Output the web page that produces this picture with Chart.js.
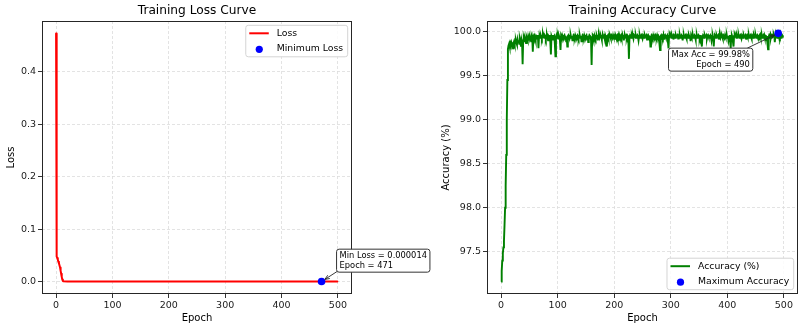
<!DOCTYPE html>
<html>
<head>
<meta charset="utf-8">
<script src="https://cdn.jsdelivr.net/npm/chart.js@4.4.0/dist/chart.umd.min.js"></script>
<style>
html, body { margin: 0; padding: 0; background: #fff; }
#wrap { position: relative; width: 808px; height: 332px; }
canvas { position: absolute; left: 0; top: 0; }
</style>
</head>
<body>
<div id="wrap">
  <canvas id="lossChart" width="808" height="332"></canvas>
  <canvas id="accChart" width="808" height="332"></canvas>
</div>
<script>
// --- data ---
const lossEpochs = [0, 1, 2, 3, 4, 5, 6, 7, 8, 9, 10, 11, 12, 13, 20, 40, 80, 120, 160, 200, 250, 300, 350, 400, 450, 471, 485, 499];
const lossValues = [0.473, 0.048, 0.045, 0.042, 0.038, 0.035, 0.031, 0.027, 0.021, 0.015, 0.009, 0.004, 0.0012, 0.0006,
  0.0003, 0.0002, 0.00012, 0.0001, 0.00008, 0.00006, 0.00005, 0.00004, 0.00003, 0.000025, 0.00002, 0.000014, 0.000018, 0.00002];
const minLossEpoch = 471;
const minLossValue = 0.000014;

// accuracy (%) for epochs 0..499
const accValues = [
  97.16, 97.28, 97.40, 97.48, 97.55, 97.62, 97.80, 98.00, 98.25, 98.60, 99.00, 99.45, 99.80, 99.84, 99.86, 99.83, 99.87, 99.85, 99.88, 99.86,
  99.84, 99.81, 99.87, 99.89, 99.86, 99.88, 99.90, 99.87, 99.85, 99.91, 99.88, 99.90, 99.86, 99.92, 99.89, 99.83, 99.91, 99.88, 99.63, 99.90,
  99.92, 99.89, 99.93, 99.91, 99.87, 99.94, 99.92, 99.90, 99.95, 99.93, 99.91, 99.94, 99.92, 99.89, 99.95, 99.93, 99.77, 99.94, 99.92, 99.95,
  99.93, 99.90, 99.95, 99.94, 99.92, 99.96, 99.81, 99.94, 99.95, 99.93, 99.96, 99.94, 99.92, 99.95, 99.97, 99.94, 99.93, 99.96, 99.95, 99.92,
  99.95, 99.96, 99.93, 99.90, 99.95, 99.94, 99.96, 99.88, 99.74, 99.95, 99.93, 99.96, 99.91, 99.94, 99.95, 99.86, 99.72, 99.94, 99.96, 99.93,
  99.95, 99.92, 99.96, 99.94, 99.90, 99.79, 99.95, 99.93, 99.96, 99.94, 99.91, 99.95, 99.96, 99.93, 99.95, 99.89, 99.94, 99.83, 99.95, 99.96,
  99.94, 99.92, 99.95, 99.96, 99.93, 99.95, 99.90, 99.94, 99.96, 99.95, 99.93, 99.96, 99.94, 99.91, 99.95, 99.96, 99.94, 99.92, 99.95, 99.96,
  99.93, 99.95, 99.89, 99.94, 99.96, 99.95, 99.93, 99.96, 99.94, 99.91, 99.95, 99.96, 99.93, 99.95, 99.88, 99.94, 99.96, 99.95, 99.93, 99.90,
  99.62, 99.94, 99.96, 99.95, 99.93, 99.96, 99.94, 99.92, 99.95, 99.96, 99.94, 99.90, 99.95, 99.96, 99.93, 99.95, 99.96, 99.94, 99.91, 99.95,
  99.96, 99.94, 99.95, 99.92, 99.96, 99.94, 99.89, 99.83, 99.95, 99.96, 99.93, 99.95, 99.96, 99.94, 99.92, 99.96, 99.95, 99.93, 99.96, 99.94,
  99.95, 99.91, 99.96, 99.94, 99.95, 99.96, 99.93, 99.95, 99.89, 99.96, 99.94, 99.95, 99.96, 99.93, 99.95, 99.96, 99.94, 99.90, 99.95, 99.96,
  99.94, 99.95, 99.93, 99.96, 99.95, 99.91, 99.69, 99.94, 99.96, 99.95, 99.93, 99.96, 99.94, 99.95, 99.92, 99.96, 99.95, 99.94, 99.96, 99.93,
  99.95, 99.96, 99.94, 99.90, 99.95, 99.96, 99.93, 99.95, 99.96, 99.94, 99.92, 99.96, 99.95, 99.93, 99.96, 99.94, 99.95, 99.96, 99.91, 99.95,
  99.96, 99.94, 99.93, 99.95, 99.83, 99.94, 99.96, 99.95, 99.93, 99.96, 99.94, 99.95, 99.90, 99.96, 99.95, 99.93, 99.96, 99.94, 99.95, 99.92,
  99.86, 99.79, 99.95, 99.96, 99.94, 99.95, 99.93, 99.96, 99.91, 99.95, 99.96, 99.94, 99.93, 99.95, 99.96, 99.88, 99.81, 99.95, 99.96, 99.94,
  99.95, 99.93, 99.96, 99.94, 99.95, 99.91, 99.96, 99.95, 99.93, 99.96, 99.94, 99.95, 99.96, 99.92, 99.95, 99.94, 99.96, 99.93, 99.95, 99.96,
  99.94, 99.90, 99.95, 99.96, 99.93, 99.95, 99.96, 99.94, 99.92, 99.96, 99.95, 99.93, 99.96, 99.94, 99.95, 99.89, 99.96, 99.94, 99.95, 99.96,
  99.93, 99.95, 99.96, 99.94, 99.91, 99.95, 99.96, 99.93, 99.95, 99.96, 99.94, 99.92, 99.95, 99.96, 99.88, 99.83, 99.94, 99.96, 99.95, 99.93,
  99.96, 99.94, 99.95, 99.96, 99.92, 99.95, 99.96, 99.94, 99.93, 99.95, 99.96, 99.94, 99.90, 99.95, 99.96, 99.93, 99.83, 99.94, 99.96, 99.95,
  99.93, 99.96, 99.94, 99.95, 99.96, 99.91, 99.95, 99.96, 99.93, 99.95, 99.96, 99.94, 99.92, 99.96, 99.95, 99.93, 99.96, 99.94, 99.95, 99.96,
  99.93, 99.95, 99.90, 99.94, 99.96, 99.89, 99.81, 99.95, 99.96, 99.94, 99.88, 99.83, 99.95, 99.96, 99.94, 99.95, 99.93, 99.96, 99.94, 99.95,
  99.96, 99.93, 99.95, 99.96, 99.94, 99.92, 99.96, 99.95, 99.93, 99.96, 99.94, 99.95, 99.96, 99.91, 99.95, 99.96, 99.94, 99.95, 99.96, 99.93,
  99.95, 99.96, 99.94, 99.92, 99.96, 99.95, 99.93, 99.96, 99.94, 99.95, 99.96, 99.93, 99.95, 99.96, 99.94, 99.91, 99.95, 99.96, 99.97, 99.94,
  99.95, 99.96, 99.93, 99.95, 99.96, 99.97, 99.94, 99.95, 99.96, 99.90, 99.95, 99.86, 99.80, 99.94, 99.96, 99.95, 99.97, 99.93, 99.96, 99.95,
  99.96, 99.94, 99.97, 99.95, 99.88, 99.96, 99.97, 99.95, 99.93, 99.96, 99.98, 99.95, 99.96, 99.94, 99.97, 99.93, 99.95, 99.94, 99.95, 99.94
];
const maxAccEpoch = 490;
const maxAccValue = 99.98;

const epochTicks = [0, 100, 200, 300, 400, 500];
const lossTicks = [0, 0.1, 0.2, 0.3, 0.4];
const accTicks = [97.5, 98.0, 98.5, 99.0, 99.5, 100.0];

const FONT = '"DejaVu Sans", sans-serif';
Chart.defaults.font.family = FONT;

// frame, titles, axis labels, legend and annotation box
const decorPlugin = {
  id: 'decor',
  afterDraw(chart, args, o) {
    const ctx = chart.ctx;
    const a = chart.chartArea;
    ctx.save();

    // axes frame
    ctx.strokeStyle = '#262626';
    ctx.lineWidth = 1;
    ctx.strokeRect(Math.round(a.left) + 0.5, Math.round(a.top) + 0.5,
      Math.round(a.right - a.left) - 1, Math.round(a.bottom - a.top) - 1);

    // title + axis labels
    ctx.fillStyle = '#000';
    ctx.textAlign = 'center';
    ctx.textBaseline = 'middle';
    ctx.font = '12.2px ' + FONT;
    ctx.fillText(o.title, (a.left + a.right) / 2, 11);
    ctx.font = '10px ' + FONT;
    ctx.fillText(o.xLabel, (a.left + a.right) / 2, 318);
    ctx.save();
    ctx.translate(o.yLabelX, (a.top + a.bottom) / 2);
    ctx.rotate(-Math.PI / 2);
    ctx.fillText(o.yLabel, 0, 0);
    ctx.restore();

    // legend
    const ds = chart.data.datasets;
    ctx.font = '9.3px ' + FONT;
    let tw = 0;
    ds.forEach(d => { tw = Math.max(tw, ctx.measureText(d.label).width); });
    const lw = 3.5 + 19.5 + 8 + tw + 4.5;
    const lh = 31.5;
    const lx = a.right - 4.3 - lw;
    const ly = o.legendTop ? a.top + 4.3 : a.bottom - 4.3 - lh;
    ctx.beginPath();
    ctx.roundRect(lx, ly, lw, lh, 2.5);
    ctx.fillStyle = 'rgba(255,255,255,0.85)';
    ctx.fill();
    ctx.strokeStyle = '#d4d4d4';
    ctx.lineWidth = 1;
    ctx.stroke();
    const rows = [ds.find(d => d.type !== 'scatter'), ds.find(d => d.type === 'scatter')];
    rows.forEach((d, i) => {
      const cy = ly + 8 + i * 15;
      if (d.type === 'scatter') {
        ctx.beginPath();
        ctx.arc(lx + 13.5, cy + 1, 3.6, 0, Math.PI * 2);
        ctx.fillStyle = d.backgroundColor;
        ctx.fill();
      } else {
        ctx.beginPath();
        ctx.moveTo(lx + 3.5, cy);
        ctx.lineTo(lx + 23, cy);
        ctx.strokeStyle = d.borderColor;
        ctx.lineWidth = 2;
        ctx.stroke();
      }
      ctx.fillStyle = '#000';
      ctx.textAlign = 'left';
      ctx.fillText(d.label, lx + 31, cy);
    });

    // annotation
    const an = o.note;
    const px = chart.scales.x.getPixelForValue(an.x);
    const py = chart.scales.y.getPixelForValue(an.y);
    ctx.font = '8.3px ' + FONT;
    let nw = 0;
    an.lines.forEach(t => { nw = Math.max(nw, ctx.measureText(t).width); });
    const bw = nw + 6;
    const bh = 23;
    const bx = an.alignRight ? px + an.dx - bw : px + an.dx;
    const by = py + an.dy;
    // arrow
    const sx = an.alignRight ? bx + bw - 5.5 : bx + 1;
    const sy = an.alignRight ? by : by + bh - 1;
    const ang = Math.atan2(py - sy, px - sx);
    const ex = px - Math.cos(ang) * 4;
    const ey = py - Math.sin(ang) * 4;
    ctx.strokeStyle = '#222';
    ctx.lineWidth = 0.9;
    ctx.beginPath();
    ctx.moveTo(sx, sy);
    ctx.lineTo(ex, ey);
    ctx.moveTo(ex - Math.cos(ang - 0.4) * 5, ey - Math.sin(ang - 0.4) * 5);
    ctx.lineTo(ex, ey);
    ctx.lineTo(ex - Math.cos(ang + 0.4) * 5, ey - Math.sin(ang + 0.4) * 5);
    ctx.stroke();
    // box
    ctx.beginPath();
    ctx.roundRect(bx, by, bw, bh, 2.5);
    ctx.fillStyle = '#fff';
    ctx.fill();
    ctx.strokeStyle = '#333';
    ctx.lineWidth = 1;
    ctx.stroke();
    ctx.fillStyle = '#000';
    ctx.textAlign = an.alignRight ? 'right' : 'left';
    an.lines.forEach((t, i) => {
      ctx.fillText(t, an.alignRight ? bx + bw - 3 : bx + 3, by + 6.5 + i * 10);
    });

    ctx.restore();
  }
};

function makeScales(yMin, yMax, yTicks, yWidth) {
  const grid = { color: '#dcdcdc', lineWidth: 0.8, tickColor: '#333', tickLength: 4, tickWidth: 1 };
  const tickFont = { size: 9.5 };
  return {
    x: {
      type: 'linear', min: -25, max: 525,
      afterBuildTicks: s => { s.ticks = epochTicks.map(v => ({ value: v })); },
      afterFit: s => { s.height = 38; },
      ticks: { callback: v => String(v), font: tickFont, color: '#1a1a1a', padding: 2, maxRotation: 0, autoSkip: false },
      grid: grid,
      border: { display: false, dash: [3, 2] }
    },
    y: {
      type: 'linear', min: yMin, max: yMax,
      afterBuildTicks: s => { s.ticks = yTicks.map(v => ({ value: v })); },
      afterFit: s => { s.width = yWidth; },
      ticks: { callback: v => v.toFixed(1), font: tickFont, color: '#1a1a1a', padding: 2, autoSkip: false },
      grid: grid,
      border: { display: false, dash: [3, 2] }
    }
  };
}

new Chart(document.getElementById('lossChart'), {
  type: 'line',
  data: {
    datasets: [
      {
        type: 'scatter', label: 'Minimum Loss', order: 0,
        data: [{ x: minLossEpoch, y: minLossValue }],
        backgroundColor: '#0000ff', borderColor: '#0000ff', pointRadius: 3.8, borderWidth: 0
      },
      {
        label: 'Loss', order: 1,
        data: lossEpochs.map((e, i) => ({ x: e, y: lossValues[i] })),
        borderColor: '#ff0000', borderWidth: 2, pointRadius: 0, tension: 0, fill: false,
        borderJoinStyle: 'round', borderCapStyle: 'round'
      }
    ]
  },
  options: {
    responsive: false, animation: false, devicePixelRatio: 1,
    layout: { padding: { left: 0, right: 456, top: 21, bottom: 0 } },
    scales: makeScales(-0.0237, 0.497, lossTicks, 42),
    plugins: {
      legend: { display: false }, title: { display: false }, tooltip: { enabled: false },
      decor: {
        title: 'Training Loss Curve', xLabel: 'Epoch', yLabel: 'Loss', yLabelX: 11.7, legendTop: true,
        note: { x: minLossEpoch, y: minLossValue, dx: 15, dy: -32.4, alignRight: false,
          lines: ['Min Loss = ' + minLossValue.toFixed(6), 'Epoch = ' + minLossEpoch] }
      }
    }
  },
  plugins: [decorPlugin]
});

new Chart(document.getElementById('accChart'), {
  type: 'line',
  data: {
    datasets: [
      {
        type: 'scatter', label: 'Maximum Accuracy', order: 0,
        data: [{ x: maxAccEpoch, y: maxAccValue }],
        backgroundColor: '#0000ff', borderColor: '#0000ff', pointRadius: 3.8, borderWidth: 0
      },
      {
        label: 'Accuracy (%)', order: 1,
        data: accValues.map((v, i) => ({ x: i, y: v })),
        borderColor: '#008000', borderWidth: 1.9, pointRadius: 0, tension: 0, fill: false
      }
    ]
  },
  options: {
    responsive: false, animation: false, devicePixelRatio: 1,
    layout: { padding: { left: 447, right: 10, top: 21, bottom: 0 } },
    scales: makeScales(97.02, 100.12, accTicks, 40),
    plugins: {
      legend: { display: false }, title: { display: false }, tooltip: { enabled: false },
      decor: {
        title: 'Training Accuracy Curve', xLabel: 'Epoch', yLabel: 'Accuracy (%)', yLabelX: 446, legendTop: false,
        note: { x: maxAccEpoch, y: maxAccValue, dx: -25.4, dy: 14.8, alignRight: true,
          lines: ['Max Acc = ' + maxAccValue.toFixed(2) + '%', 'Epoch = ' + maxAccEpoch] }
      }
    }
  },
  plugins: [decorPlugin]
});
</script>
</body>
</html>
